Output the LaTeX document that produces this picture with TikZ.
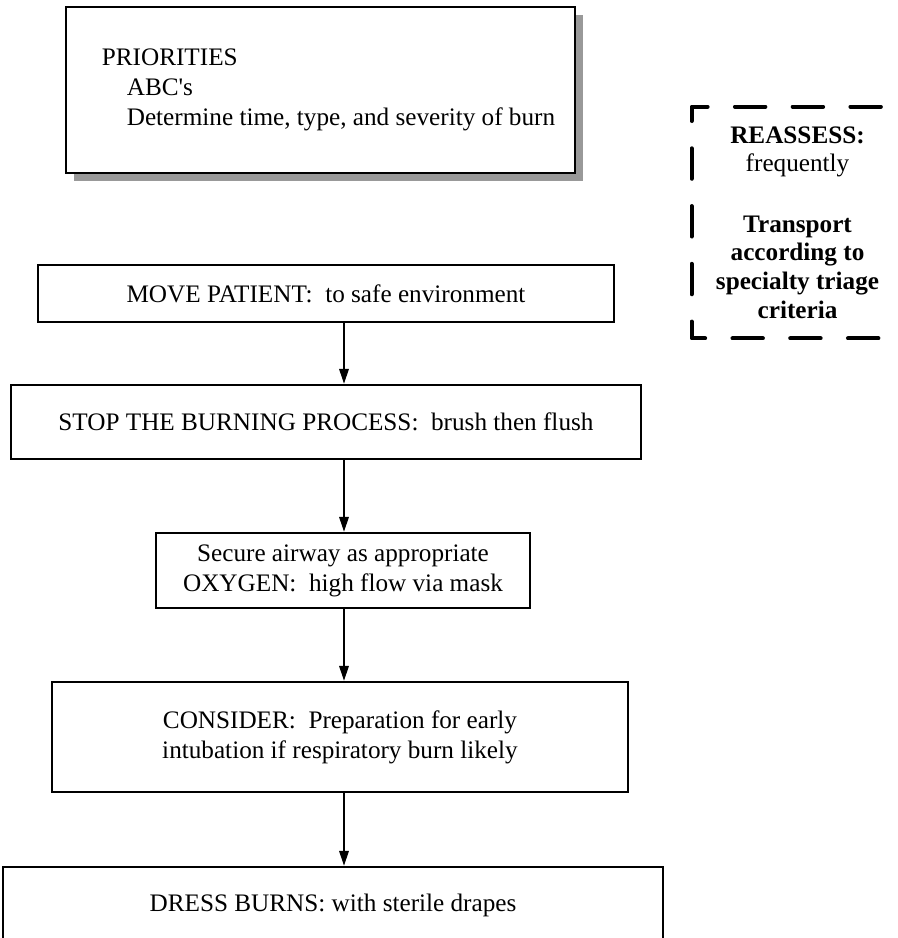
\documentclass[tikz,border=0pt]{standalone}
\usepackage{fontspec}
\setmainfont{Liberation Serif}
\usetikzlibrary{arrows.meta,shadows}
\newcommand{\px}{0.4762pt}
\tikzset{
	box/.style={draw,line width=1.3pt,fill=white,align=center,inner sep=0pt,font=\fontsize{12}{14.3}\selectfont},
	flow/.style={-{Triangle[length=7pt,width=4.6pt]},line width=0.5pt},
	reassess/.style={align=center,inner sep=0pt,font=\fontsize{12}{13.7}\selectfont},
	dashframe/.style={line width=1.9pt,line cap=round,line join=round,dash pattern=on 14.5pt off 13pt,dash phase=16.75pt}
}
\begin{document}
\begin{tikzpicture}[x=\px,y=-\px]
		\useasboundingbox (0,0) rectangle (897,938);
		\clip (0,0) rectangle (897,938);
		\coordinate (axis) at (344,0);
		
		\node[box,align=left,minimum width=509*\px,minimum height=166*\px,drop shadow={shadow xshift=8*\px,shadow yshift=-8*\px,fill=gray!80,opacity=1}] (prio) at (320.5,90)
			{\hspace*{7.6pt}PRIORITIES\\\hspace*{19.5pt}ABC\textquotesingle s\\\hspace*{19.5pt}Determine time, type, and severity of burn};
		
		\node[reassess,minimum width=211*\px,minimum height=231*\px] (check) at (797.5,222.5)
			{\textbf{REASSESS:}\\frequently\\[15pt]\textbf{Transport}\\\textbf{according to}\\\textbf{specialty triage}\\\textbf{criteria}};
		\draw[dashframe] (check.north east) -- (check.north west) -- (check.south west) -- (check.south east);
		
		\node[box,minimum width=576*\px,minimum height=57*\px] (move) at (326,293.5) {MOVE PATIENT:\ \ to safe environment};
		\node[box,minimum width=630*\px,minimum height=74*\px] (stop) at (326,422) {STOP THE BURNING PROCESS:\ \ brush then flush};
		\node[box,minimum width=374*\px,minimum height=75*\px] (airway) at (343,570.5) {Secure airway as appropriate\\OXYGEN:\ \ high flow via mask};
		\node[box,minimum width=576*\px,minimum height=110*\px] (consider) at (340,737) {CONSIDER:\ \ Preparation for early\\intubation if respiratory burn likely};
		\node[box,minimum width=660*\px,minimum height=76*\px] (dress) at (333,905) {DRESS BURNS:\ with sterile drapes};
		
		\draw[flow] (move.south -| axis) -- (stop.north -| axis);
		\draw[flow] (stop.south -| axis) -- (airway.north -| axis);
		\draw[flow] (airway.south -| axis) -- (consider.north -| axis);
		\draw[flow] (consider.south -| axis) -- (dress.north -| axis);
	\end{tikzpicture}
\end{document}
